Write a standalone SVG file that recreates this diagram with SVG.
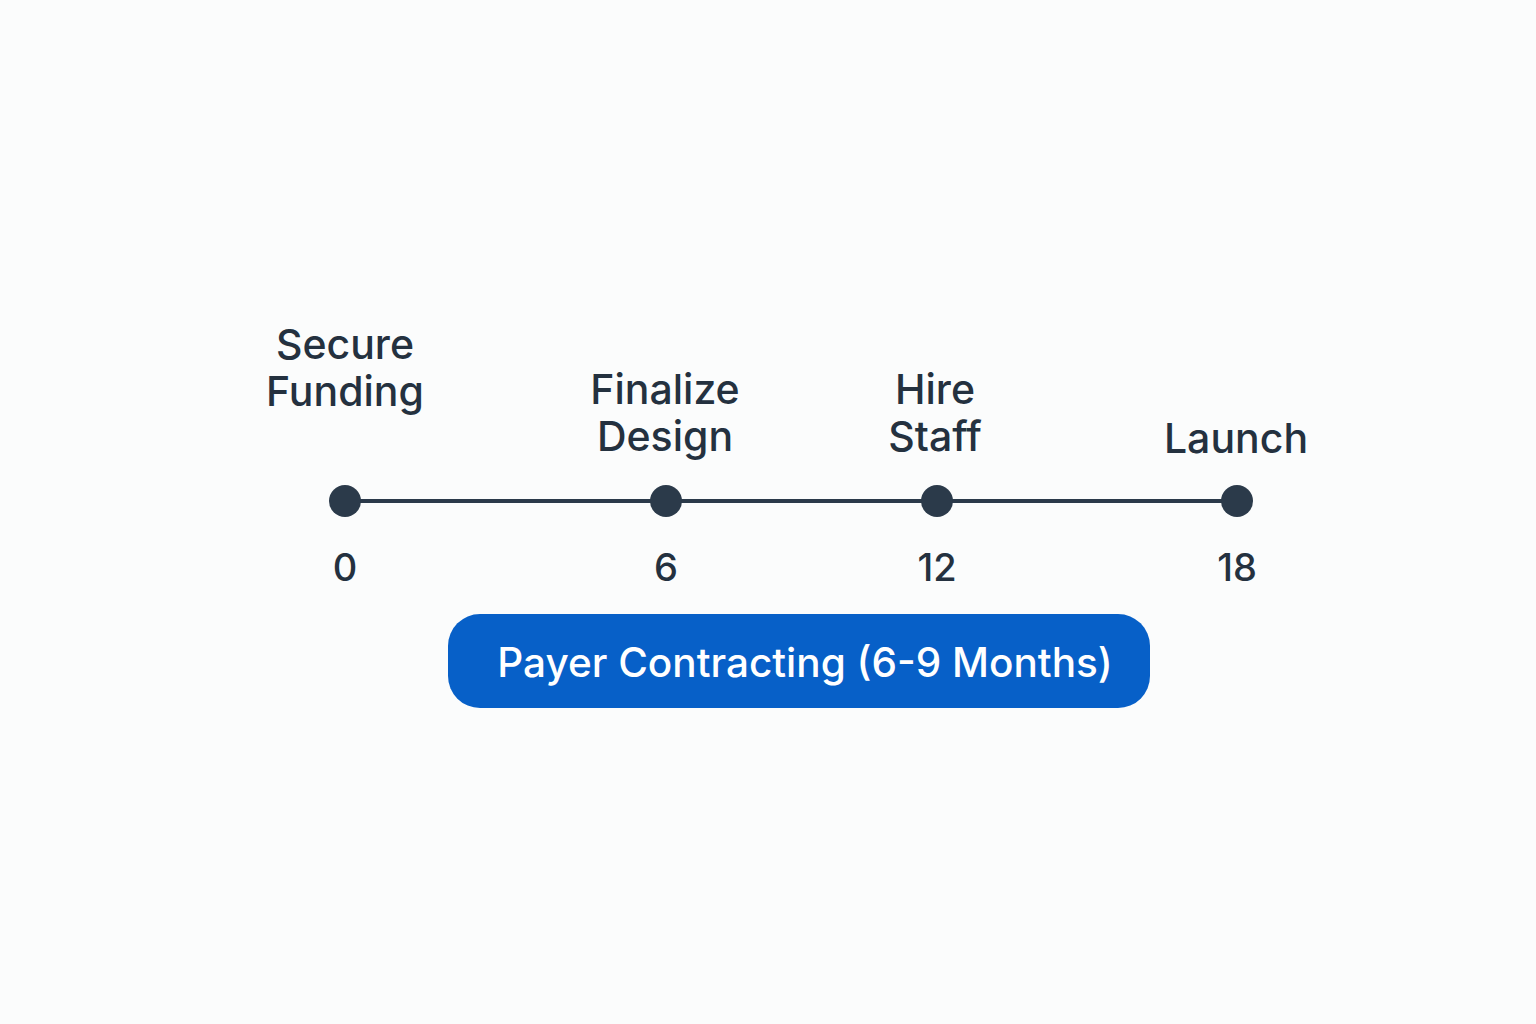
<svg xmlns="http://www.w3.org/2000/svg" width="1536" height="1024" viewBox="0 0 1536 1024">
<style>
.lbl{font-family:Inter,"Noto Sans","Liberation Sans",sans-serif;font-size:41px;fill:#24313F;text-anchor:middle;font-weight:500}
.num{font-family:Inter,"Noto Sans","Liberation Sans",sans-serif;font-size:38px;fill:#24313F;text-anchor:middle;font-weight:500}
.dot{fill:#2B3A4A}
.bar{font-family:Inter,"Noto Sans","Liberation Sans",sans-serif;font-size:40.5px;fill:#ffffff;text-anchor:middle;font-weight:500}
</style>
<rect width="1536" height="1024" fill="#FBFCFC"/>
<g id="connectors">
<line x1="345" y1="501" x2="1237" y2="501" stroke="#2B3A4A" stroke-width="4"/>
</g>
<g id="node-0">
<circle class="dot" cx="345" cy="501" r="16"/>
<text class="lbl" x="345" y="359">Secure</text>
<text class="lbl" x="345" y="406">Funding</text>
<text class="num" x="345" y="581">0</text>
</g>
<g id="node-6">
<circle class="dot" cx="666" cy="501" r="16"/>
<text class="lbl" x="665" y="404">Finalize</text>
<text class="lbl" x="665" y="451">Design</text>
<text class="num" x="666" y="581">6</text>
</g>
<g id="node-12">
<circle class="dot" cx="937" cy="501" r="16"/>
<text class="lbl" x="935" y="404">Hire</text>
<text class="lbl" x="935" y="451">Staff</text>
<text class="num" x="937" y="581">12</text>
</g>
<g id="node-18">
<circle class="dot" cx="1237" cy="501" r="16"/>
<text class="lbl" x="1236" y="453">Launch</text>
<text class="num" x="1237" y="581">18</text>
</g>
<g id="payer-contracting">
<rect x="448" y="614" width="702" height="94" rx="32" fill="#0760C8"/>
<text class="bar" x="805" y="677">Payer Contracting (6-9 Months)</text>
</g>
</svg>
